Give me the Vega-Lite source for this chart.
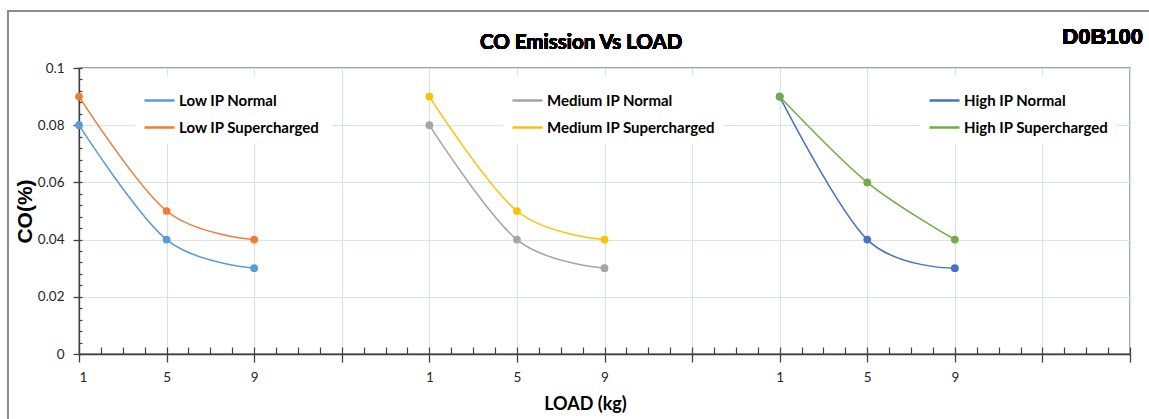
{
  "$schema": "https://vega.github.io/schema/vega-lite/v6.json",
  "width": 1051,
  "height": 286,
  "autosize": "none",
  "padding": {"left": 79, "top": 68, "right": 19, "bottom": 65},
  "background": "white",
  "config": {
    "view": {"stroke": "#404040", "strokeWidth": 1.3},
    "axis": {"domainColor": "#404040", "tickColor": "#404040", "labelFont": "Lato", "labelFontSize": 13.5, "labelColor": "#262626"}
  },
  "datasets": {
    "co": [
      {"group": "Low", "series": "Low IP Normal", "pos": 0, "load": 1, "co": 0.08},
      {"group": "Low", "series": "Low IP Normal", "pos": 4, "load": 5, "co": 0.04},
      {"group": "Low", "series": "Low IP Normal", "pos": 8, "load": 9, "co": 0.03},
      {"group": "Low", "series": "Low IP  Supercharged", "pos": 0, "load": 1, "co": 0.09},
      {"group": "Low", "series": "Low IP  Supercharged", "pos": 4, "load": 5, "co": 0.05},
      {"group": "Low", "series": "Low IP  Supercharged", "pos": 8, "load": 9, "co": 0.04},
      {"group": "Medium", "series": "Medium IP Normal", "pos": 16, "load": 1, "co": 0.08},
      {"group": "Medium", "series": "Medium IP Normal", "pos": 20, "load": 5, "co": 0.04},
      {"group": "Medium", "series": "Medium IP Normal", "pos": 24, "load": 9, "co": 0.03},
      {"group": "Medium", "series": "Medium IP Supercharged", "pos": 16, "load": 1, "co": 0.09},
      {"group": "Medium", "series": "Medium IP Supercharged", "pos": 20, "load": 5, "co": 0.05},
      {"group": "Medium", "series": "Medium IP Supercharged", "pos": 24, "load": 9, "co": 0.04},
      {"group": "High", "series": "High IP Normal", "pos": 32, "load": 1, "co": 0.09},
      {"group": "High", "series": "High IP Normal", "pos": 36, "load": 5, "co": 0.04},
      {"group": "High", "series": "High IP Normal", "pos": 40, "load": 9, "co": 0.03},
      {"group": "High", "series": "High IP Supercharged", "pos": 32, "load": 1, "co": 0.09},
      {"group": "High", "series": "High IP Supercharged", "pos": 36, "load": 5, "co": 0.06},
      {"group": "High", "series": "High IP Supercharged", "pos": 40, "load": 9, "co": 0.04}
    ]
  },
  "data": {"name": "co"},
  "resolve": {"scale": {"color": "independent"}, "axis": {"x": "independent", "y": "independent"}},
  "layer": [
    {
      "mark": {"type": "rect", "fill": null, "fillOpacity": 0, "stroke": "#8c8c8c", "strokeWidth": 1.2, "clip": false},
      "encoding": {
        "x": {"datum": -3.24, "type": "quantitative", "scale": {"domain": [0, 48], "nice": false}, "axis": null},
        "x2": {"datum": 55},
        "y": {"datum": -0.05, "type": "quantitative", "scale": {"domain": [0, 0.1], "nice": false}, "axis": null},
        "y2": {"datum": 0.1199}
      }
    },
    {
      "mark": {"type": "point", "opacity": 0},
      "encoding": {
        "x": {"field": "pos", "type": "quantitative", "scale": {"domain": [0, 48], "nice": false},
          "axis": {"orient": "bottom", "values": [0, 4, 8, 12, 16, 20, 24, 28, 32, 36, 40, 44, 48], "tickSize": 8, "tickWidth": 1.3, "labelPadding": 8,
            "labelExpr": "datum.value == 48 ? '' : (datum.value % 16 == 0 ? '1' : (datum.value % 16 == 4 ? '5' : (datum.value % 16 == 8 ? '9' : '')))",
            "grid": true, "gridColor": "#DCE2EA", "gridWidth": 1.2, "domainWidth": 1.3,
            "title": "LOAD (kg)", "titleFont": "Lato", "titleFontSize": 18, "titleFontWeight": "bold", "titleColor": "#000000", "titleX": 506, "titlePadding": 12}},
        "y": {"field": "co", "type": "quantitative", "scale": {"domain": [0, 0.1], "nice": false},
          "axis": {"orient": "left", "values": [0, 0.02, 0.04, 0.06, 0.08, 0.1], "format": "~g", "tickSize": 6, "tickWidth": 1.3, "labelPadding": 9,
            "grid": true, "gridColor": "#DCE2EA", "gridWidth": 1.2, "domainWidth": 1.3,
            "title": "CO(%)", "titleFont": "Liberation Sans", "titleFontSize": 21, "titleFontWeight": "bold", "titleColor": "#000000", "titlePadding": 2}}
      }
    },
    {
      "mark": {"type": "point", "opacity": 0},
      "encoding": {
        "x": {"field": "pos", "type": "quantitative", "scale": {"domain": [0, 48], "nice": false},
          "axis": {"orient": "bottom", "values": [0,1,2,3,4,5,6,7,8,9,10,11,12,13,14,15,16,17,18,19,20,21,22,23,24,25,26,27,28,29,30,31,32,33,34,35,36,37,38,39,40,41,42,43,44,45,46,47,48],
            "tickSize": -7, "tickWidth": 1.2, "labels": false, "domain": false, "grid": false, "title": null}},
        "y": {"field": "co", "type": "quantitative", "scale": {"domain": [0, 0.1], "nice": false},
          "axis": {"orient": "left", "values": [0,0.004,0.008,0.012,0.016,0.02,0.024,0.028,0.032,0.036,0.04,0.044,0.048,0.052,0.056,0.06,0.064,0.068,0.072,0.076,0.08,0.084,0.088,0.092,0.096,0.1],
            "tickSize": -3, "tickWidth": 1.2, "labels": false, "domain": false, "grid": false, "title": null}}
      }
    },
    {
      "transform": [{"filter": "datum.group == 'Low'"}],
      "encoding": {
        "x": {"field": "pos", "type": "quantitative", "scale": {"domain": [0, 48], "nice": false}, "axis": null},
        "y": {"field": "co", "type": "quantitative", "scale": {"domain": [0, 0.1], "nice": false}, "axis": null},
        "color": {"field": "series", "type": "nominal", "scale": {"domain": ["Low IP Normal", "Low IP  Supercharged"], "range": ["#5B9BD5", "#ED7D31"]},
          "legend": {"orient": "none", "legendX": 56, "legendY": 8, "title": null, "symbolType": "stroke", "symbolSize": 900, "symbolStrokeWidth": 2.5,
            "labelFont": "Lato", "labelFontSize": 15, "labelFontWeight": "bold", "labelColor": "#000000", "labelLimit": 400, "fillColor": "white", "padding": 8, "rowPadding": 2, "labelOffset": 3}}
      },
      "layer": [
        {"mark": {"type": "line", "interpolate": "cardinal", "strokeWidth": 1.5}},
        {"mark": {"type": "point", "filled": true, "size": 60, "opacity": 1}}
      ]
    },
    {
      "transform": [{"filter": "datum.group == 'Medium'"}],
      "encoding": {
        "x": {"field": "pos", "type": "quantitative", "scale": {"domain": [0, 48], "nice": false}, "axis": null},
        "y": {"field": "co", "type": "quantitative", "scale": {"domain": [0, 0.1], "nice": false}, "axis": null},
        "color": {"field": "series", "type": "nominal", "scale": {"domain": ["Medium IP Normal", "Medium IP Supercharged"], "range": ["#A5A5A5", "#FFC000"]},
          "legend": {"orient": "none", "legendX": 424, "legendY": 8, "title": null, "symbolType": "stroke", "symbolSize": 900, "symbolStrokeWidth": 2.5,
            "labelFont": "Lato", "labelFontSize": 15, "labelFontWeight": "bold", "labelColor": "#000000", "labelLimit": 400, "fillColor": "white", "padding": 8, "rowPadding": 2, "labelOffset": 3}}
      },
      "layer": [
        {"mark": {"type": "line", "interpolate": "cardinal", "strokeWidth": 1.5}},
        {"mark": {"type": "point", "filled": true, "size": 60, "opacity": 1}}
      ]
    },
    {
      "transform": [{"filter": "datum.group == 'High'"}],
      "encoding": {
        "x": {"field": "pos", "type": "quantitative", "scale": {"domain": [0, 48], "nice": false}, "axis": null},
        "y": {"field": "co", "type": "quantitative", "scale": {"domain": [0, 0.1], "nice": false}, "axis": null},
        "color": {"field": "series", "type": "nominal", "scale": {"domain": ["High IP Normal", "High IP Supercharged"], "range": ["#4472C4", "#70AD47"]},
          "legend": {"orient": "none", "legendX": 841, "legendY": 8, "title": null, "symbolType": "stroke", "symbolSize": 900, "symbolStrokeWidth": 2.5,
            "labelFont": "Lato", "labelFontSize": 15, "labelFontWeight": "bold", "labelColor": "#000000", "labelLimit": 400, "fillColor": "white", "padding": 8, "rowPadding": 2, "labelOffset": 3}}
      },
      "layer": [
        {"mark": {"type": "line", "interpolate": "cardinal", "strokeWidth": 1.5}},
        {"mark": {"type": "point", "filled": true, "size": 60, "opacity": 1}}
      ]
    },
    {
      "mark": {"type": "text", "text": "CO Emission  Vs LOAD", "font": "Lato", "fontSize": 20.5, "fontWeight": "bold", "fill": "#000000", "stroke": null, "align": "center", "baseline": "middle", "clip": false},
      "encoding": {
        "x": {"datum": 22.93, "type": "quantitative", "scale": {"domain": [0, 48], "nice": false}, "axis": null},
        "y": {"datum": 0.1087, "type": "quantitative", "scale": {"domain": [0, 0.1], "nice": false}, "axis": null}
      }
    },
    {
      "mark": {"type": "text", "text": "D0B100", "font": "Liberation Sans", "fontSize": 22, "fontWeight": "bold", "fill": "#000000", "stroke": null, "align": "right", "baseline": "middle", "dx": 13, "clip": false},
      "encoding": {
        "x": {"datum": 48, "type": "quantitative", "scale": {"domain": [0, 48], "nice": false}, "axis": null},
        "y": {"datum": 0.1107, "type": "quantitative", "scale": {"domain": [0, 0.1], "nice": false}, "axis": null}
      }
    }
  ]
}
